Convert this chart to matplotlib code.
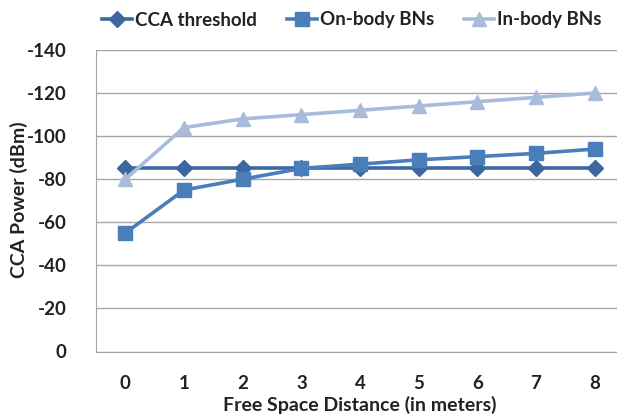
import matplotlib
matplotlib.use("Agg")
import matplotlib.pyplot as plt

distance = [0, 1, 2, 3, 4, 5, 6, 7, 8]
cca_threshold = [-85, -85, -85, -85, -85, -85, -85, -85, -85]
on_body = [-55, -75, -80, -85, -87, -89, -90.5, -92, -94]
in_body = [-80, -104, -108, -110, -112, -114, -116, -118, -120]
y_ticks = [0, -20, -40, -60, -80, -100, -120, -140]

plt.rcParams['font.family'] = ['Lato', 'DejaVu Sans']
plt.rcParams['axes.unicode_minus'] = False

fig = plt.figure(figsize=(6.17, 4.17), dpi=100)
W, H = 617, 417
left, right = 96, 624
top, bottom = 50, 351.5
ax = fig.add_axes([left / W, 1 - bottom / H, (right - left) / W, (bottom - top) / H])

c1, c2, c3 = '#3D67A0', '#4A7EBB', '#A9BBDA'
ax.plot(distance, cca_threshold, color=c1, lw=2.6, marker='D', ms=8.5, label='CCA threshold')
ax.plot(distance, on_body, color=c2, lw=2.6, marker='s', ms=10.5, label='On-body BNs')
ax.plot(distance, in_body, color=c3, lw=2.6, marker='^', ms=10.5, label='In-body BNs')

ax.set_xlim(-0.5, 8.5)
ax.set_ylim(0, -140)
ax.set_yticks(y_ticks)
ax.set_xticks(distance)
ax.yaxis.grid(True, color='#A6A6A6', lw=1)
ax.set_axisbelow(True)
for s in ['top', 'right']:
    ax.spines[s].set_visible(False)
for s in ['left', 'bottom']:
    ax.spines[s].set_color('#A6A6A6')
ax.tick_params(length=0, labelsize=13.5, colors='#222222')
ax.tick_params(axis='y', pad=21)
ax.tick_params(axis='x', pad=17)
for lab in ax.get_xticklabels() + ax.get_yticklabels():
    lab.set_fontweight('bold')
ax.set_xlabel('Free Space Distance (in meters)', fontsize=14, fontweight='bold', labelpad=3, color='#222222')
fig.text(19 / W, 1 - 200 / H, 'CCA Power (dBm)', rotation=90, ha='center', va='center',
         fontsize=14, fontweight='bold', color='#222222')

leg = fig.legend(loc='center', bbox_to_anchor=(352 / W, 1 - 20 / H), ncol=3, frameon=False,
                 handlelength=1.6, columnspacing=1.6, handletextpad=0.15,
                 prop={'weight': 'bold', 'size': 13.5})
for t in leg.get_texts():
    t.set_color('#222222')

fig.savefig('out.png', dpi=100)
